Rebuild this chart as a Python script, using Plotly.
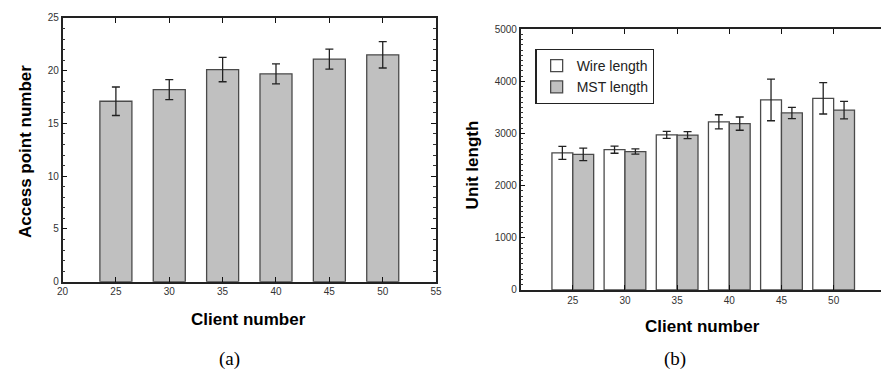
import plotly.graph_objects as go

# ---- data ----
clients = [25, 30, 35, 40, 45, 50]
ap_mean = [17.1, 18.2, 20.1, 19.7, 21.1, 21.5]
ap_err = [1.35, 0.95, 1.15, 0.95, 0.95, 1.25]

wire_len = [2630, 2690, 2975, 3225, 3645, 3675]
wire_err = [125, 68, 68, 135, 400, 300]
mst_len = [2600, 2655, 2970, 3190, 3395, 3450]
mst_err = [120, 50, 68, 127, 108, 167]

x_ticks_a = [20, 25, 30, 35, 40, 45, 50, 55]
x_ticks_b = [25, 30, 35, 40, 45, 50]

W, H = 887, 378
GRAY = "#c0c0c0"
EDGE = "#4a4a4a"
SANS = "Liberation Sans, Arial, sans-serif"
TICKFONT = dict(family=SANS, size=10, color="#333333")

fig = go.Figure()

fig.add_trace(go.Bar(
    x=clients, y=ap_mean, width=3, offset=-1.5,
    marker=dict(color=GRAY, line=dict(color=EDGE, width=1.3)),
    error_y=dict(type="data", array=ap_err, color="#222222", thickness=1.3, width=4),
    xaxis="x", yaxis="y", showlegend=False, name="Access points"))

fig.add_trace(go.Bar(
    x=clients, y=wire_len, width=2, offset=-2, name="Wire length",
    marker=dict(color="white", line=dict(color=EDGE, width=1.3)),
    error_y=dict(type="data", array=wire_err, color="#222222", thickness=1.3, width=4),
    xaxis="x2", yaxis="y2"))

fig.add_trace(go.Bar(
    x=clients, y=mst_len, width=2, offset=0, name="MST length",
    marker=dict(color=GRAY, line=dict(color=EDGE, width=1.3)),
    error_y=dict(type="data", array=mst_err, color="#222222", thickness=1.3, width=4),
    xaxis="x2", yaxis="y2"))

def px(v):
    return v / W

def py(v):
    return (H - v) / H

fig.update_layout(
    width=W, height=H, margin=dict(l=0, r=0, t=0, b=0),
    paper_bgcolor="white", plot_bgcolor="white",
    barmode="overlay",
    xaxis=dict(domain=[px(57.3), px(436)], range=[20, 55], tickmode="array", tickvals=x_ticks_a,
               showgrid=False, zeroline=False, showline=True, linecolor="#222222", linewidth=1.5,
               ticks="inside", ticklen=5, tickwidth=1.3, tickcolor="#111111",
               tickfont=TICKFONT, mirror="allticks", anchor="y"),
    yaxis=dict(domain=[py(284.7), py(12.3)], range=[0, 25], tickmode="linear", tick0=0, dtick=5,
               showgrid=False, zeroline=False, showline=True, linecolor="#222222", linewidth=1.5,
               ticks="inside", ticklen=5, tickwidth=1.3, tickcolor="#111111",
               minor=dict(ticks="inside", dtick=1, ticklen=3, tickwidth=1, tickcolor="#333333"),
               tickfont=TICKFONT, mirror="allticks", anchor="x"),
    xaxis2=dict(domain=[px(521.7), 1.0], range=[20, 54.54], tickmode="array", tickvals=x_ticks_b,
                showgrid=False, zeroline=False, showline=True, linecolor="#222222", linewidth=1.5,
                ticks="inside", ticklen=5, tickwidth=1.3, tickcolor="#111111",
                tickfont=TICKFONT, mirror="allticks", anchor="y2"),
    yaxis2=dict(domain=[py(293.3), py(24)], range=[0, 5000], tickmode="linear", tick0=0,
                dtick=1000, showgrid=False, zeroline=False, showline=True,
                linecolor="#222222", linewidth=1.5,
                ticks="inside", ticklen=5, tickwidth=1.3, tickcolor="#111111",
                minor=dict(ticks="inside", dtick=100, ticklen=3, tickwidth=1, tickcolor="#333333"),
                tickfont=TICKFONT, anchor="x2"),
    legend=dict(x=px(536.7), y=py(44.3), xanchor="left", yanchor="top",
                bordercolor="#222222", borderwidth=1.2, bgcolor="white",
                font=dict(family=SANS, size=14, color="#222222"),
                tracegroupgap=0, itemwidth=30),
)

title_font = dict(family=SANS, size=17, color="black", weight="bold")
cap_font = dict(family="Liberation Serif, serif", size=19, color="black")

def note(text, x, y, font, angle=0):
    fig.add_annotation(text=text, x=px(x), y=py(y), xref="paper", yref="paper",
                       xanchor="center", yanchor="middle", textangle=angle,
                       showarrow=False, font=font)

note("Access point number", 20, 150, title_font, -90)
note("Client number", 246, 324, title_font)
note("Unit length", 473, 164, title_font, -90)
note("Client number", 706, 331, title_font)
note("(a)", 227, 365, cap_font)
note("(b)", 678, 365, cap_font)

fig.write_html("out.html", config={"displayModeBar": False},
               post_script="document.body.style.margin='0';document.body.style.overflow='hidden';")
